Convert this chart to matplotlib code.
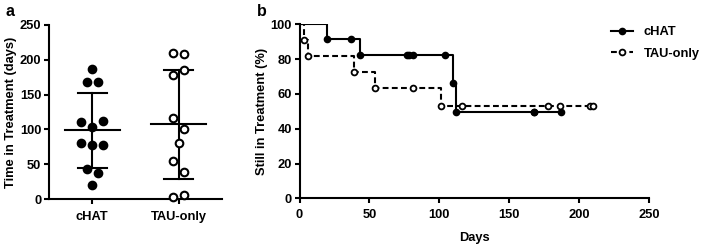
import matplotlib
matplotlib.use("Agg")
import matplotlib.pyplot as plt
import numpy as np

plt.rcParams["font.family"] = ["Liberation Sans", "DejaVu Sans"]
plt.rcParams["font.weight"] = "bold"
plt.rcParams["axes.labelweight"] = "bold"

GROUPS = ["cHAT", "TAU-only"]

# days in treatment per patient, and whether treatment ended (1) or was censored (0)
chat_days = [187, 168, 168, 110, 104, 112, 81, 77, 78, 43, 37, 20]
chat_ended = [0, 0, 0, 1, 0, 1, 0, 0, 0, 1, 0, 1]
tau_days = [210, 208, 178, 186, 116, 101, 81, 54, 39, 3, 6]
tau_ended = [0, 0, 0, 0, 0, 1, 0, 1, 1, 1, 1]

A_YTICKS = [0, 50, 100, 150, 200, 250]
B_XTICKS = [0, 50, 100, 150, 200, 250]
B_YTICKS = [0, 20, 40, 60, 80, 100]

LW = 1.5
FS = 9.3


def swarm_offsets(values, spacing=0.13, gap=16):
    # group values that sit close together and spread them side by side
    order = sorted(range(len(values)), key=lambda i: -values[i])
    clusters, cur = [], [order[0]]
    for i in order[1:]:
        if abs(values[cur[-1]] - values[i]) <= gap:
            cur.append(i)
        else:
            clusters.append(cur)
            cur = [i]
    clusters.append(cur)
    offs = np.zeros(len(values))
    for cl in clusters:
        cl = sorted(cl)
        n = len(cl)
        for k, i in enumerate(cl):
            offs[i] = (k - (n - 1) / 2) * spacing
    return offs


def kaplan_meier(days, ended):
    days = np.asarray(days, float)
    ended = np.asarray(ended)
    order = np.argsort(days, kind="stable")
    days, ended = days[order], ended[order]
    at_risk = len(days)
    surv = 100.0
    t_pts, s_pts = [], []
    for d, e in zip(days, ended):
        if e:
            surv *= (at_risk - 1) / at_risk
        at_risk -= 1
        t_pts.append(d)
        s_pts.append(surv)
    return np.array(t_pts), np.array(s_pts)


fig = plt.figure(figsize=(7.09, 2.45), dpi=100)
ax_a = fig.add_axes([49 / 709, 1 - 199 / 245, 173 / 709, 174 / 245])
ax_b = fig.add_axes([299.5 / 709, 1 - 198.3 / 245, 349.5 / 709, 174 / 245])

for ax in (ax_a, ax_b):
    for side in ("top", "right"):
        ax.spines[side].set_visible(False)
    for side in ("left", "bottom"):
        ax.spines[side].set_linewidth(LW)
    ax.tick_params(width=LW, length=3.5, labelsize=FS, pad=2)

# panel a: scatter with mean +/- SD
for gi, (vals, filled) in enumerate([(chat_days, True), (tau_days, False)]):
    xs = gi + swarm_offsets(vals)
    ax_a.scatter(xs, vals, s=30, facecolor="black" if filled else "white",
                 edgecolor="black", linewidth=1.5, zorder=3, clip_on=False)
    m = np.mean(vals)
    sd = np.std(vals, ddof=1)
    ax_a.plot([gi - 0.32, gi + 0.32], [m, m], color="black", lw=LW, zorder=2)
    ax_a.plot([gi, gi], [m - sd, m + sd], color="black", lw=LW, zorder=2)
    for v in (m - sd, m + sd):
        ax_a.plot([gi - 0.17, gi + 0.17], [v, v], color="black", lw=LW, zorder=2)

ax_a.set_xlim(-0.5, 1.5)
ax_a.set_ylim(0, 250)
ax_a.set_yticks(A_YTICKS)
ax_a.set_xticks(range(len(GROUPS)))
ax_a.set_xticklabels(GROUPS, fontsize=FS, fontweight="bold")
ax_a.set_yticklabels(A_YTICKS, fontsize=FS, fontweight="bold")
ax_a.tick_params(axis="x", pad=5)
ax_a.set_ylabel("Time in Treatment (days)", fontsize=FS, fontweight="bold", labelpad=2)

# panel b: Kaplan-Meier style curves
for vals, ended, filled, ls, label in [
    (chat_days, chat_ended, True, "-", "cHAT"),
    (tau_days, tau_ended, False, (0, (2.8, 1.6)), "TAU-only"),
]:
    t, s = kaplan_meier(vals, ended)
    st = np.concatenate([[0], t])
    ss = np.concatenate([[100], s])
    ax_b.step(st, ss, where="post", color="black", lw=LW, linestyle=ls, zorder=2)
    ax_b.plot(t, s, linestyle="none", marker="o", markersize=4.2,
              markerfacecolor="black" if filled else "white",
              markeredgecolor="black", markeredgewidth=1.3, zorder=3)
    ax_b.plot([], [], color="black", lw=LW, linestyle=ls, marker="o", markersize=4.2,
              markerfacecolor="black" if filled else "white",
              markeredgecolor="black", markeredgewidth=1.3, label=label)

ax_b.set_xlim(0, 250)
ax_b.set_ylim(0, 100)
ax_b.set_xticks(B_XTICKS)
ax_b.set_yticks(B_YTICKS)
ax_b.set_xticklabels(B_XTICKS, fontsize=FS, fontweight="bold")
ax_b.set_yticklabels(B_YTICKS, fontsize=FS, fontweight="bold")
ax_b.tick_params(axis="x", pad=4)
ax_b.set_xlabel("Days", fontsize=FS, fontweight="bold", labelpad=8)
ax_b.set_ylabel("Still in Treatment (%)", fontsize=FS, fontweight="bold", labelpad=2)

leg = ax_b.legend(loc="upper left", bbox_to_anchor=(0.892, 0.99), frameon=False,
                  fontsize=FS, handlelength=1.7, handletextpad=0.8,
                  labelspacing=0.75, borderpad=0, borderaxespad=0)
for txt in leg.get_texts():
    txt.set_fontweight("bold")

fig.text(5 / 709, 1 - 12 / 245, "a", fontsize=11.5, fontweight="bold", va="center", ha="left")
fig.text(257 / 709, 1 - 12 / 245, "b", fontsize=11.5, fontweight="bold", va="center", ha="left")

fig.savefig("out.png", dpi=100)
